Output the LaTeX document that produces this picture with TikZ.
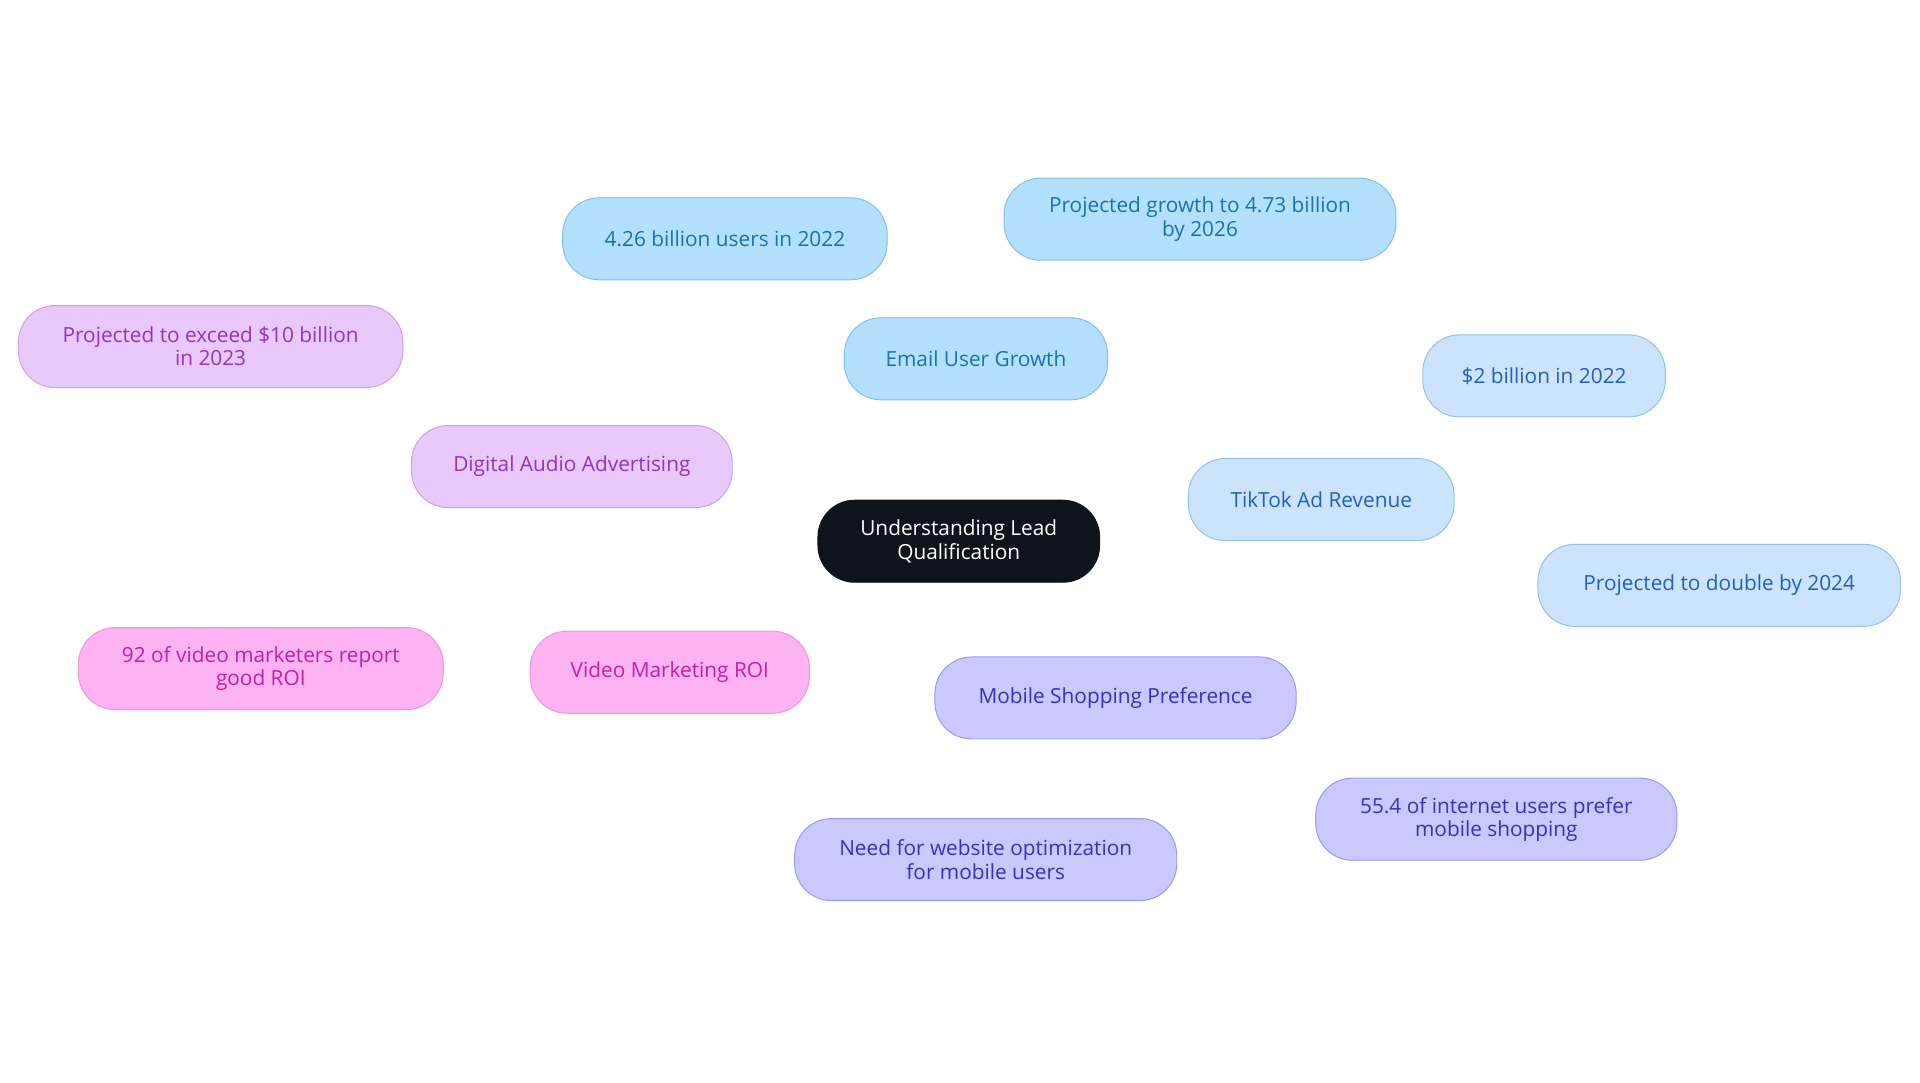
\documentclass[tikz,border=0pt]{standalone}
\usepackage{fontspec}
\setmainfont{Open Sans}
\usetikzlibrary{positioning}
\definecolor{rootc}{HTML}{0D141B}
\definecolor{mailf}{HTML}{B3E0FD}\definecolor{maild}{HTML}{7FC0EA}\definecolor{mailt}{HTML}{1B72AE}
\definecolor{tikf}{HTML}{CCE4FB}\definecolor{tikd}{HTML}{95C0EC}\definecolor{tikt}{HTML}{2160C0}
\definecolor{mobf}{HTML}{C9C9FD}\definecolor{mobd}{HTML}{9A9AEC}\definecolor{mobt}{HTML}{3A30BE}
\definecolor{vidf}{HTML}{FDB3F1}\definecolor{vidd}{HTML}{EC98DE}\definecolor{vidt}{HTML}{C21FA6}
\definecolor{audf}{HTML}{E9C8FC}\definecolor{audd}{HTML}{CFA0EC}\definecolor{audt}{HTML}{9631C6}
\begin{document}
\begin{tikzpicture}[x=1pt,y=-1pt]
\tikzset{
  base/.style={draw, rounded corners=30pt, align=center, minimum height=67pt,
    font=\fontsize{17}{19}\selectfont, line width=0.8pt},
  root/.style={base, fill=rootc, draw=rootc, text=white},
  mail/.style={base, fill=mailf, draw=maild, text=mailt},
  tik/.style={base, fill=tikf, draw=tikd, text=tikt},
  mob/.style={base, fill=mobf, draw=mobd, text=mobt},
  vid/.style={base, fill=vidf, draw=vidd, text=vidt},
  aud/.style={base, fill=audf, draw=audd, text=audt},
  link/.style={line width=2pt},
}
\useasboundingbox (0,0) rectangle (1568,884);
% links first
\coordinate (rc) at (783,442);
\node [root, minimum width=230pt] (root) at (783,442) {Understanding Lead\\Qualification};

\node [mail, minimum width=215pt] (mail) at (797,293) {Email User Growth};
\node [mail, minimum width=265pt] (mail1) at (592,195) {4.26 billion users in 2022};
\node [mail, minimum width=320pt] (mail2) at (980,179) {Projected growth to 4.73 billion\\by 2026};

\node [tik, minimum width=217pt] (tik) at (1079,408) {TikTok Ad Revenue};
\node [tik, minimum width=198pt] (tik1) at (1261,307) {\$2 billion in 2022};
\node [tik, minimum width=296pt] (tik2) at (1404,478) {Projected to double by 2024};

\node [mob, minimum width=295pt] (mob) at (911,570) {Mobile Shopping Preference};
\node [mob, minimum width=312pt] (mob1) at (805,702) {Need for website optimization\\for mobile users};
\node [mob, minimum width=295pt] (mob2) at (1222,669) {55.4 of internet users prefer\\mobile shopping};

\node [vid, minimum width=228pt] (vid) at (547,549) {Video Marketing ROI};
\node [vid, minimum width=298pt] (vid1) at (213,546) {92 of video marketers report\\good ROI};

\node [aud, minimum width=262pt] (aud) at (467,381) {Digital Audio Advertising};
\node [aud, minimum width=314pt] (aud1) at (172,283) {Projected to exceed \$10 billion\\in 2023};

\begin{scope}[on background layer/.style={}]
\end{scope}
\end{tikzpicture}
\end{document}
